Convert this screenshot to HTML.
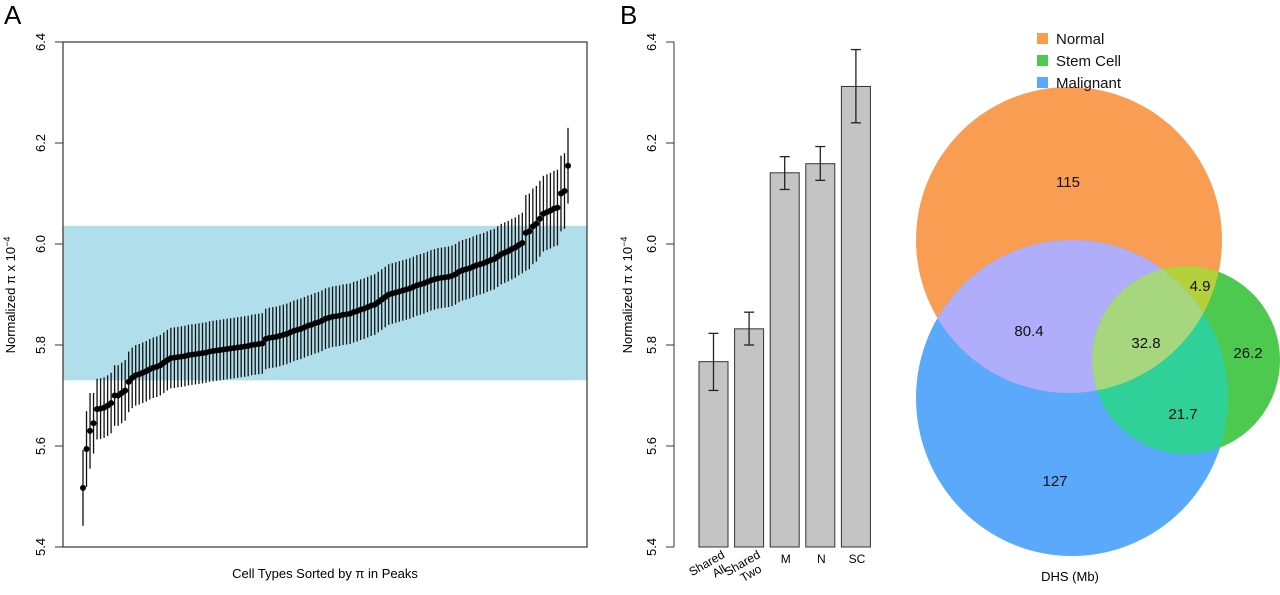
<!DOCTYPE html>
<html><head><meta charset="utf-8"><style>
body{margin:0;background:#fff}
svg{display:block;font-family:"Liberation Sans",sans-serif}
</style></head><body>
<svg id="fig" width="1280" height="595" viewBox="0 0 1280 595">
<g id="pa"></g>
<g id="pb"></g>
<g id="pc"></g>
</svg>
<script>
const NS='http://www.w3.org/2000/svg';
// Panel A data
const aValues=[5.517,5.594,5.63,5.645,5.673,5.674,5.676,5.68,5.685,5.70,5.70,5.705,5.71,5.727,5.735,5.74,5.742,5.745,5.748,5.752,5.755,5.757,5.76,5.765,5.77,5.774,5.775,5.776,5.777,5.778,5.78,5.781,5.782,5.783,5.784,5.785,5.787,5.788,5.789,5.79,5.791,5.792,5.793,5.794,5.795,5.796,5.797,5.798,5.80,5.801,5.802,5.803,5.812,5.814,5.815,5.816,5.818,5.82,5.822,5.825,5.828,5.83,5.832,5.835,5.838,5.84,5.843,5.845,5.848,5.852,5.854,5.856,5.857,5.858,5.86,5.861,5.862,5.865,5.867,5.87,5.872,5.875,5.878,5.88,5.885,5.89,5.895,5.9,5.902,5.904,5.906,5.908,5.91,5.912,5.915,5.918,5.92,5.922,5.925,5.928,5.93,5.932,5.933,5.934,5.935,5.937,5.94,5.945,5.948,5.95,5.952,5.955,5.958,5.96,5.962,5.965,5.968,5.97,5.975,5.98,5.983,5.986,5.99,5.993,5.998,6.002,6.022,6.025,6.035,6.04,6.05,6.06,6.063,6.066,6.07,6.072,6.1,6.105,6.155];
const aErrSmall=0.06, aErrLarge=0.075;
const aTicks=[5.4,5.6,5.8,6.0,6.2,6.4];
const aBand=[5.73,6.036];
// Panel B data
const bCats=[["Shared","All"],["Shared","Two"],["M"],["N"],["SC"]];
const bValues=[5.767,5.832,6.141,6.159,6.312];
const bLow=[5.71,5.80,6.108,6.126,6.24];
const bHigh=[5.823,5.865,6.173,6.193,6.385];
const bTicks=[5.4,5.6,5.8,6.0,6.2,6.4];
// Venn data
const vennLabels=["115","80.4","32.8","4.9","26.2","21.7","127"];

function el(p,t,a,txt){const e=document.createElementNS(NS,t);for(const k in a)e.setAttribute(k,a[k]);if(txt!=null)e.textContent=txt;p.appendChild(e);return e;}

// ---- Panel A
const pa=document.getElementById('pa');
const ax0=63,ax1=587,ay0=42,ay1=547;
const yA=v=>ay1-(v-5.4)/1.0*(ay1-ay0);
const xA=i=>83+i*(568-83)/(aValues.length-1);
let t=el(pa,'text',{x:4,y:24,'font-size':26},'A');

let band=el(pa,'rect',{x:ax0,y:yA(aBand[1]),width:ax1-ax0,height:yA(aBand[0])-yA(aBand[1]),fill:'#b1deeb'});

aValues.forEach((v,i)=>{
  const e=i<3||i>125?aErrLarge:aErrSmall;
  const l=el(pa,'line',{x1:xA(i),x2:xA(i),y1:yA(v-e),y2:yA(v+e),stroke:'#111','stroke-width':1.3});
  
});
aValues.forEach((v,i)=>{
  const c=el(pa,'circle',{cx:xA(i),cy:yA(v),r:3,fill:'#000'});
  
});
let box=el(pa,'rect',{x:ax0,y:ay0,width:ax1-ax0,height:ay1-ay0,fill:'none',stroke:'#333','stroke-width':1.2});

aTicks.forEach(v=>{
  el(pa,'line',{x1:55,x2:ax0,y1:yA(v),y2:yA(v),stroke:'#333'});
  const tx=el(pa,'text',{x:0,y:0,'font-size':13,'text-anchor':'middle',transform:`translate(45,${yA(v)}) rotate(-90)`},v.toFixed(1));
  
});
t=el(pa,'text',{x:0,y:0,'font-size':13,'text-anchor':'middle',transform:'translate(15,295) rotate(-90)'});
t.innerHTML='Normalized π x 10<tspan dy="-5" font-size="9">−4</tspan>';

t=el(pa,'text',{x:325,y:578,'font-size':13,'text-anchor':'middle'},'Cell Types Sorted by π in Peaks');


// ---- Panel B
const pb=document.getElementById('pb');
const by0=42,by1=547,bax=674;
const yB=v=>by1-(v-5.4)*(by1-by0);
const xB=i=>699+i*35.6;
t=el(pb,'text',{x:620,y:24,'font-size':26},'B');

el(pb,'line',{x1:bax,x2:bax,y1:by0,y2:by1,stroke:'#333'});
bTicks.forEach(v=>{
  el(pb,'line',{x1:666,x2:bax,y1:yB(v),y2:yB(v),stroke:'#333'});
  const tx=el(pb,'text',{x:0,y:0,'font-size':13,'text-anchor':'middle',transform:`translate(656,${yB(v)}) rotate(-90)`},v.toFixed(1));
  
});
t=el(pb,'text',{x:0,y:0,'font-size':13,'text-anchor':'middle',transform:'translate(632,295) rotate(-90)'});
t.innerHTML='Normalized π x 10<tspan dy="-5" font-size="9">−4</tspan>';

bValues.forEach((v,i)=>{
  const r=el(pb,'rect',{x:xB(i),y:yB(v),width:29,height:by1-yB(v),fill:'#c4c4c4',stroke:'#333','stroke-width':1});
  
  const cx=xB(i)+14.5;
  const g=el(pb,'g',{stroke:'#222','stroke-width':1.3});
  
  el(g,'line',{x1:cx,x2:cx,y1:yB(bLow[i]),y2:yB(bHigh[i])});
  el(g,'line',{x1:cx-5,x2:cx+5,y1:yB(bLow[i]),y2:yB(bLow[i])});
  el(g,'line',{x1:cx-5,x2:cx+5,y1:yB(bHigh[i]),y2:yB(bHigh[i])});
  const multi=bCats[i].length>1;
  const lab=el(pb,'text',{x:0,y:0,'font-size':12,'text-anchor':multi?'end':'middle',transform:multi?`translate(${cx+12},${557}) rotate(-30)`:`translate(${cx+1},563)`});
  
  bCats[i].forEach((s,j)=>{el(lab,'tspan',{x:j?-6:0,dy:j?13:0},s);});
});

// ---- Venn
const pc=document.getElementById('pc');
const defs=el(pc,'defs',{});
const O={cx:1069,cy:240,rx:153,ry:153},B={cx:1072,cy:398,rx:156,ry:158},G={cx:1186,cy:360,rx:94,ry:94};
function clip(id,s){const c=el(defs,'clipPath',{id});el(c,'ellipse',s);}
clip('cO',O);clip('cB',B);clip('cG',G);
function ell(p,s,f,name){const e=el(p,'ellipse',Object.assign({fill:f},s));return e;}
ell(pc,O,'#f99d52','normal-circle');
ell(pc,B,'#5aa9fb','malignant-circle');
ell(pc,G,'#4ec94f','stem-cell-circle');
let g1=el(pc,'g',{'clip-path':'url(#cO)'});ell(g1,B,'#b0adfb','normal-malignant-overlap');
let g2=el(pc,'g',{'clip-path':'url(#cO)'});ell(g2,G,'#b6cf3c','normal-stem-overlap');
let g3=el(pc,'g',{'clip-path':'url(#cB)'});ell(g3,G,'#30d198','malignant-stem-overlap');
let g4=el(pc,'g',{'clip-path':'url(#cB)'});let g4b=el(g4,'g',{'clip-path':'url(#cO)'});ell(g4b,G,'#a6d67e','all-overlap');
const vPos=[[1068,187],[1029,336],[1146,348],[1200,291],[1248,358],[1183,419],[1055,486]];
vennLabels.forEach((s,i)=>{
  const tx=el(pc,'text',{x:vPos[i][0],y:vPos[i][1],'font-size':15,'text-anchor':'middle',fill:'#111'},s);
  
});
t=el(pc,'text',{x:1070,y:581,'font-size':13,'text-anchor':'middle'},'DHS (Mb)');

[['Normal','#f99d52'],['Stem Cell','#4ec94f'],['Malignant','#5aa9fb']].forEach((d,i)=>{
  const g=el(pc,'g',{});
  
  el(g,'rect',{x:1037,y:33+i*22,width:11,height:11,fill:d[1]});
  el(g,'text',{x:1056,y:44+i*22,'font-size':15,fill:'#111'},d[0]);
});
</script>
</body></html>
